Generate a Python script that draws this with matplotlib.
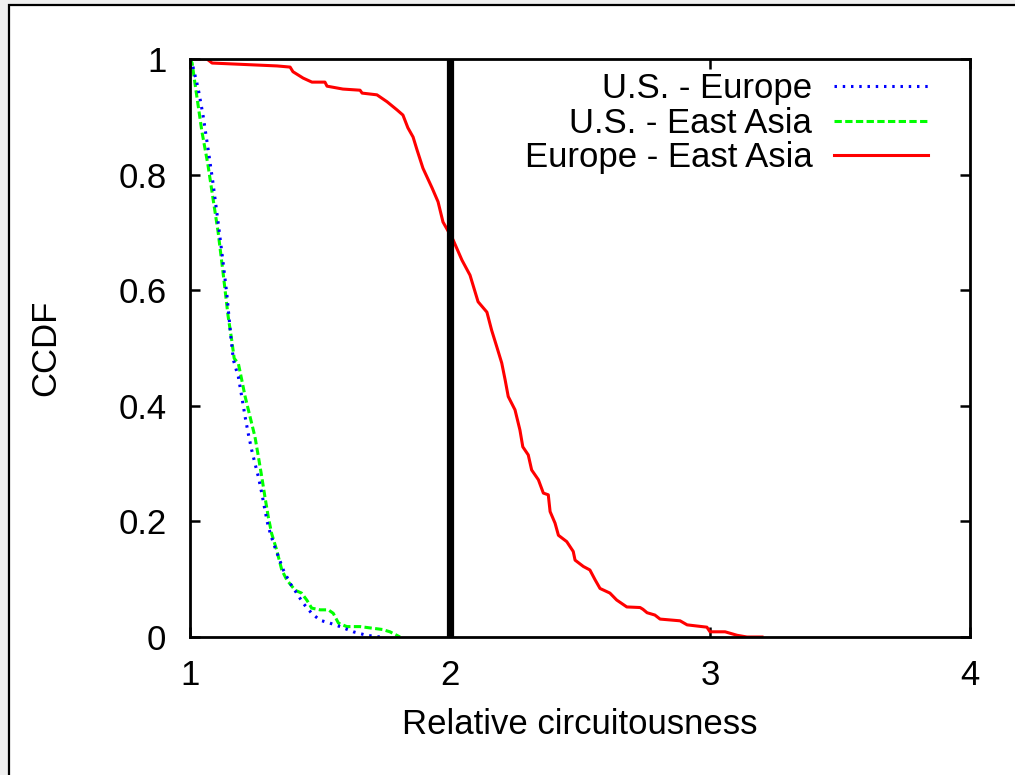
import matplotlib
matplotlib.use("Agg")
import matplotlib.pyplot as plt
from matplotlib.patches import Rectangle

plt.rcParams['font.family'] = ['Liberation Sans', 'DejaVu Sans']

# ---- data ----
us_eu_x = [1.0, 1.008, 1.031, 1.050, 1.069, 1.088, 1.108, 1.127, 1.142, 1.158, 1.167,
           1.186, 1.199, 1.212, 1.224, 1.237, 1.250, 1.263, 1.276, 1.288, 1.301, 1.321,
           1.340, 1.359, 1.385, 1.410, 1.436, 1.468, 1.500, 1.538, 1.577, 1.628, 1.679, 1.731]
us_eu_y = [1.0, 0.993, 0.950, 0.903, 0.846, 0.787, 0.718, 0.649, 0.592, 0.515, 0.479,
           0.450, 0.416, 0.381, 0.352, 0.324, 0.300, 0.277, 0.249, 0.220, 0.191, 0.162,
           0.139, 0.116, 0.093, 0.076, 0.058, 0.041, 0.029, 0.024, 0.018, 0.009, 0.003, 0.0]

us_ea_x = [1.0, 1.008, 1.027, 1.046, 1.069, 1.088, 1.108, 1.127, 1.146, 1.160, 1.170,
           1.186, 1.199, 1.212, 1.231, 1.250, 1.263, 1.276, 1.288, 1.301, 1.314, 1.333,
           1.353, 1.372, 1.404, 1.429, 1.449, 1.468, 1.500, 1.532, 1.551, 1.571, 1.603,
           1.654, 1.705, 1.740, 1.769, 1.808]
us_ea_y = [1.0, 0.993, 0.933, 0.874, 0.817, 0.760, 0.701, 0.631, 0.557, 0.515, 0.482,
           0.473, 0.445, 0.416, 0.381, 0.346, 0.312, 0.277, 0.243, 0.208, 0.179, 0.151,
           0.116, 0.099, 0.081, 0.076, 0.064, 0.050, 0.047, 0.047, 0.041, 0.024, 0.018,
           0.018, 0.015, 0.013, 0.009, 0.0]

eu_ea_x = [1.0, 1.065, 1.085, 1.335, 1.385, 1.396, 1.435, 1.469, 1.519, 1.527, 1.588,
           1.654, 1.662, 1.719, 1.758, 1.796, 1.819, 1.838, 1.858, 1.873, 1.896, 1.931,
           1.954, 1.973, 2.012, 2.046, 2.077, 2.108, 2.142, 2.160, 2.180, 2.199, 2.212,
           2.224, 2.250, 2.269, 2.280, 2.301, 2.314, 2.340, 2.359, 2.378, 2.385, 2.404,
           2.417, 2.449, 2.474, 2.481, 2.513, 2.538, 2.558, 2.577, 2.615, 2.641, 2.680,
           2.731, 2.742, 2.758, 2.788, 2.808, 2.885, 2.912, 2.988, 3.0, 3.058, 3.104,
           3.142, 3.2]
eu_ea_y = [1.0, 1.0, 0.993, 0.988, 0.986, 0.978, 0.967, 0.960, 0.960, 0.953, 0.948,
           0.946, 0.941, 0.938, 0.926, 0.912, 0.903, 0.881, 0.865, 0.843, 0.811, 0.777,
           0.753, 0.718, 0.687, 0.652, 0.626, 0.580, 0.562, 0.531, 0.502, 0.474, 0.445,
           0.416, 0.393, 0.358, 0.329, 0.315, 0.289, 0.272, 0.249, 0.246, 0.217, 0.197,
           0.176, 0.165, 0.148, 0.133, 0.122, 0.116, 0.099, 0.084, 0.076, 0.064, 0.052,
           0.051, 0.048, 0.042, 0.038, 0.031, 0.028, 0.021, 0.017, 0.009, 0.009, 0.003,
           0.0, 0.0]

threshold_x = 2.0

x_ticks = [1, 2, 3, 4]
y_ticks = [0, 0.2, 0.4, 0.6, 0.8, 1]
y_tick_labels = ['0', '0.2', '0.4', '0.6', '0.8', '1']
labels = ['U.S. - Europe', 'U.S. - East Asia', 'Europe - East Asia']

FS = 25

# ---- figure ----
W, H = 1015, 775
fig = plt.figure(figsize=(W / 100, H / 100), dpi=100, facecolor='#f0f0f0')
fig.patches.append(Rectangle((8.5 / W, -0.1), 1.2, 1.1 - 4.5 / H,
                             transform=fig.transFigure, facecolor='white',
                             edgecolor='black', linewidth=1.6, zorder=-10))

ax = fig.add_axes([190 / W, (H - 637) / H, 780 / W, 578 / H])
ax.set_zorder(1)
ax.set_facecolor('white')

ax.plot(us_eu_x, us_eu_y, color='#0000ff', lw=2.2, linestyle=(0, (0.8, 1.9)),
        label=labels[0], zorder=3)
ax.plot(us_ea_x, us_ea_y, color='#00ff00', lw=2.2, linestyle=(0, (2.4, 1.1)),
        label=labels[1], zorder=2)
ax.plot(eu_ea_x, eu_ea_y, color='#ff0000', lw=2.2, label=labels[2], zorder=3)
ax.axvline(threshold_x, color='black', lw=5.2, zorder=4)

ax.set_xlim(1, 4)
ax.set_ylim(0, 1)
ax.set_xticks(x_ticks)
ax.set_xticklabels([str(t) for t in x_ticks])
ax.set_yticks(y_ticks)
ax.set_yticklabels(y_tick_labels)

for s in ax.spines.values():
    s.set_linewidth(2.0)
    s.set_zorder(5)
ax.tick_params(direction='in', length=7, width=1.8, labelsize=FS,
               top=True, right=True, pad=16)
ax.tick_params(axis='y', pad=17)

ax.set_ylabel('CCDF', fontsize=FS)
ax.yaxis.set_label_coords(-0.185, 0.5)
ax.yaxis.label.set_va('center')
ax.set_xlabel('Relative circuitousness', fontsize=FS)
ax.xaxis.set_label_coords(0.5, -0.152)
ax.xaxis.label.set_va('center')

leg = ax.legend(loc='upper right', bbox_to_anchor=((928 - 190) / 780, (637 - 72) / 578),
                frameon=False, fontsize=FS, markerfirst=False, handlelength=2.7,
                handletextpad=0.63, borderpad=0, borderaxespad=0, labelspacing=0.05)

fig.savefig('out.png', dpi=100, facecolor=fig.get_facecolor())
